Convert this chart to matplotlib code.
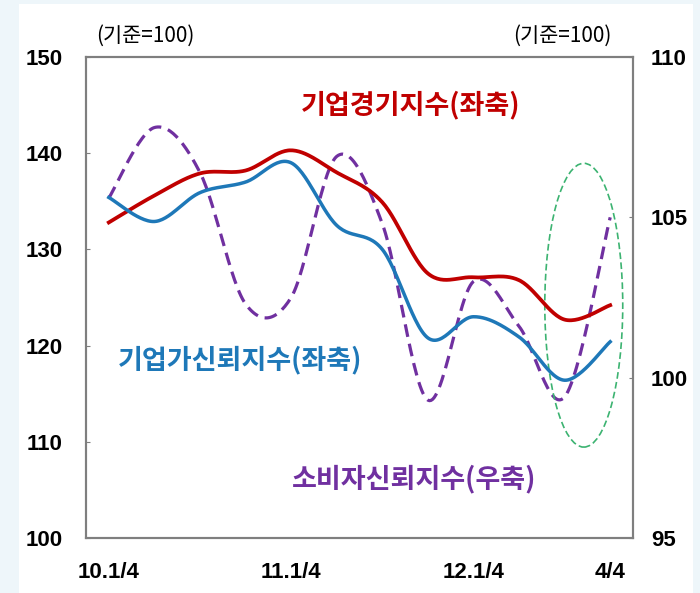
import numpy as np
import matplotlib.pyplot as plt
from matplotlib.patches import Ellipse, Rectangle

plt.rcParams['font.family'] = ['Liberation Sans', 'Noto Sans CJK KR', 'DejaVu Sans']

# quarterly data, 2010 Q1 .. 2012 Q4
quarters = ['10.1/4', '10.2/4', '10.3/4', '10.4/4',
            '11.1/4', '11.2/4', '11.3/4', '11.4/4',
            '12.1/4', '12.2/4', '12.3/4', '4/4']
tick_idx = [0, 4, 8, 11]

bsi = [132.8, 135.6, 137.9, 138.2, 140.3, 138.0, 134.9, 127.5, 127.1, 126.8, 122.7, 124.2]   # left axis
bci = [135.4, 132.9, 135.9, 137.0, 139.0, 132.5, 130.0, 120.8, 123.0, 120.9, 116.4, 120.4]   # left axis
csi = [105.6, 107.8, 106.4, 102.3, 102.5, 106.9, 104.8, 99.3, 103.0, 101.6, 99.4, 105.0]     # right axis


def smooth(y, n=30):
    # Excel-style smoothed line (Catmull-Rom as cubic bezier)
    x = np.arange(len(y), dtype=float)
    y = np.asarray(y, dtype=float)
    px = np.concatenate([[x[0]], x, [x[-1]]])
    py = np.concatenate([[y[0]], y, [y[-1]]])
    xs, ys = [], []
    t = np.linspace(0, 1, n)
    for i in range(1, len(px) - 2):
        p0 = np.array([px[i], py[i]])
        p3 = np.array([px[i + 1], py[i + 1]])
        c1 = p0 + (p3 - np.array([px[i - 1], py[i - 1]])) / 6
        c2 = p3 - (np.array([px[i + 2], py[i + 2]]) - p0) / 6
        b = ((1 - t) ** 3)[:, None] * p0 + (3 * (1 - t) ** 2 * t)[:, None] * c1 \
            + (3 * (1 - t) * t ** 2)[:, None] * c2 + (t ** 3)[:, None] * p3
        xs.extend(b[:, 0])
        ys.extend(b[:, 1])
    return np.array(xs), np.array(ys)


fig = plt.figure(figsize=(7, 5.93), dpi=100, facecolor='#eef6fa')
fig.patches.append(Rectangle((19 / 700, 0), 674 / 700, 589 / 593, transform=fig.transFigure,
                             facecolor='white', edgecolor='none', zorder=-5))
ax = fig.add_axes([86 / 700, 1 - 538 / 593, 547 / 700, 481 / 593])
ax2 = ax.twinx()
ax2.set_zorder(1)
ax.set_zorder(2)
ax.patch.set_visible(False)

red = '#c00000'
blue = '#1e78b8'
purple = '#7030a0'

x, y = smooth(csi)
ax2.plot(x, y, color=purple, lw=2.3, dashes=(4, 2.2))
x, y = smooth(bsi)
ax.plot(x, y, color=red, lw=2.7)
x, y = smooth(bci)
ax.plot(x, y, color=blue, lw=2.5)

ax.add_patch(Ellipse((10.42, 124.2), 1.71, 29.5, fill=False, edgecolor='#3cb371',
                     lw=1.2, linestyle=(0, (4, 2))))

ax.set_xlim(-0.5, 11.5)
ax.set_ylim(100, 150)
ax2.set_ylim(95, 110)
ax.set_yticks([100, 110, 120, 130, 140, 150])
ax2.set_yticks([95, 100, 105, 110])
ax.set_xticks(tick_idx)
ax.set_xticklabels([quarters[i] for i in tick_idx])

for a in (ax, ax2):
    for s in a.spines.values():
        s.set_color('#7f7f7f')
        s.set_linewidth(1.5)
ax.tick_params(axis='y', direction='in', length=3, color='#7f7f7f', pad=17,
               labelsize=16)
ax2.tick_params(axis='y', direction='in', length=3, color='#7f7f7f', pad=13,
                labelsize=16)
ax.tick_params(axis='x', length=0, pad=17, labelsize=16)
for lab in ax.get_yticklabels() + ax.get_xticklabels() + ax2.get_yticklabels():
    lab.set_fontweight('bold')

kfont = ['Noto Sans CJK KR', 'DejaVu Sans']
fig.text(145 / 700, 1 - 36 / 593, '(기준=100)', ha='center', va='center', fontsize=15,
         family=kfont, fontweight='medium')
fig.text(562 / 700, 1 - 36 / 593, '(기준=100)', ha='center', va='center', fontsize=15,
         family=kfont, fontweight='medium')
fig.text(411 / 700, 1 - 105 / 593, '기업경기지수(좌축)', ha='center', va='center', fontsize=19.5,
         color=red, fontweight='bold', family=kfont)
fig.text(240 / 700, 1 - 360 / 593, '기업가신뢰지수(좌축)', ha='center', va='center', fontsize=19.5,
         color=blue, fontweight='bold', family=kfont)
fig.text(414 / 700, 1 - 479 / 593, '소비자신뢰지수(우축)', ha='center', va='center', fontsize=19.5,
         color=purple, fontweight='bold', family=kfont)

fig.savefig('out.png', dpi=100, facecolor=fig.get_facecolor())
